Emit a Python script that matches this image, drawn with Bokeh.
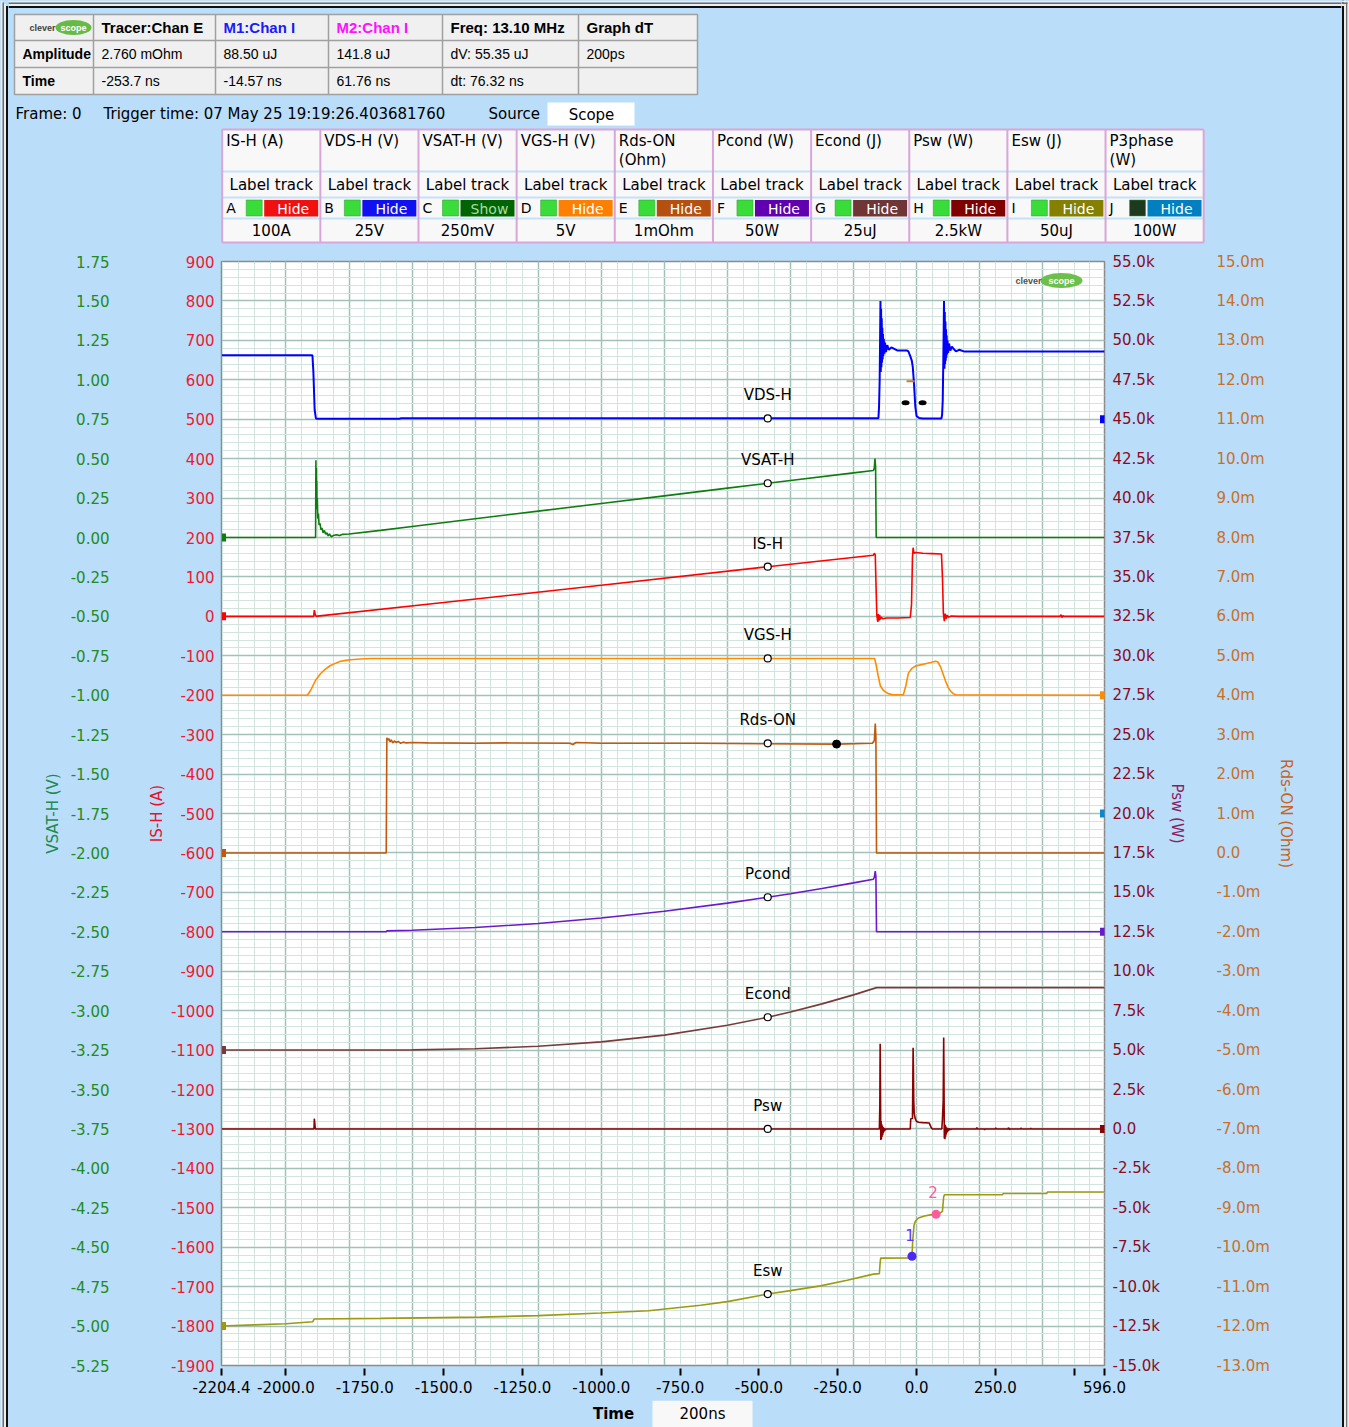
from bokeh.plotting import figure
from bokeh.models import Range1d, LinearAxis, FixedTicker, PrintfTickFormatter, CustomJSTickFormatter
from bokeh.layouts import column, row
from bokeh.embed import file_html
from bokeh.resources import INLINE
from bokeh.core.properties import value

# ======================= DATA =======================
T_START, T_END = -2204.4, 596.0                       # ns
X_TICKS = [-2204.4, -2000, -1750, -1500, -1250, -1000, -750, -500, -250, 0, 250, 500, 596.0]
X_GRID_MAJOR = [-2000, -1800, -1600, -1400, -1200, -1000, -800, -600, -400, -200, 0, 200, 400]
X_GRID_MINOR = [t for t in range(-2200, 596, 50)]
DIV_BOTTOM, DIV_TOP = -19, 9                           # screen divisions (IS-H: 100 A/div)

CH_NAMES = ["IS-H", "VDS-H", "VSAT-H", "VGS-H", "Rds-ON", "Pcond", "Econd", "Psw", "Esw", "P3phase"]
CH_HEAD_1 = ["IS-H (A)", "VDS-H (V)", "VSAT-H (V)", "VGS-H (V)", "Rds-ON", "Pcond (W)",
             "Econd (J)", "Psw (W)", "Esw (J)", "P3phase"]
CH_HEAD_2 = ["", "", "", "", "(Ohm)", "", "", "", "", "(W)"]
CH_LETTERS = ["A", "B", "C", "D", "E", "F", "G", "H", "I", "J"]
CH_BUTTON = ["Hide", "Hide", "Show", "Hide", "Hide", "Hide", "Hide", "Hide", "Hide", "Hide"]
CH_SCALE_TEXT = ["100A", "25V", "250mV", "5V", "1mOhm", "50W", "25uJ", "2.5kW", "50uJ", "100W"]
CH_SCALE = [100, 25, 0.25, 5, 1e-3, 50, 25e-6, 2500, 50e-6, 100]
CH_ZERO_DIV = [0, 5, 2, -2, -6, -8, -11, -13, -18, -5]
CH_MARK_SIDE = ["left", "right", "left", "right", "left", "right", "left", "right", "left", "right"]

# traces: (time ns, value in channel unit)
IS_H = [(-2204.4, 0), (-1912, 0), (-1910, 16), (-1907, 4), (-1904, 0), (-1900, 0.5), (-1500, 35),
        (-1000, 79), (-472, 126), (-137, 155), (-134, 160), (-131, 156), (-128, 60), (-126, 2),
        (-123, -14), (-121, 6), (-119, -11), (-117, 3), (-115, -8), (-112, -2), (-107, -6),
        (-95, -4), (-60, -4), (-20, -3), (-16, 30), (-13, 150), (-11, 174), (-8, 160), (-3, 162),
        (20, 160), (50, 159), (79, 158), (82, 100), (85, 8), (88, -12), (91, 7), (94, -6), (97, 3),
        (101, -2), (110, 1), (130, 0), (455, 0), (458, 4), (461, -3), (464, 2), (467, 0), (596, 0)]
VDS_H = [(-2204.4, 40.5), (-1916, 40.5), (-1913, 30), (-1909, 6), (-1905, 0.5), (-1900, 0.3),
         (-1640, 0.3), (-1635, 0.6), (-121, 0.6), (-119, 8), (-117, 25), (-115.5, 55), (-114.5, 75),
         (-113.5, 30), (-112.5, 70), (-111.5, 33), (-110.5, 64), (-109.5, 36), (-108.5, 58),
         (-107.5, 38), (-106.5, 54), (-105.5, 40), (-104, 51), (-102, 41.5), (-100, 48.5),
         (-97, 42.5), (-93, 47), (-88, 44), (-80, 45.5), (-60, 43.5), (-30, 43.5), (-26, 43),
         (-20, 40), (-15, 37), (-12, 33), (-8, 22), (-4, 8), (0, 2), (8, 0.8), (20, 0.5), (79, 0.5),
         (81, 3), (83, 12), (85, 40), (87, 75), (88.5, 32), (89.5, 68), (90.5, 35), (91.5, 62),
         (92.5, 37), (93.5, 57), (94.5, 39), (95.5, 53), (96.5, 41), (98, 50), (100, 42), (103, 48),
         (107, 43.5), (112, 46), (118, 44.5), (125, 43), (135, 44), (150, 43), (596, 43)]
VSAT_H = [(-2204.4, 0), (-1906, 0), (-1905, 0.49), (-1904.3, 0.28), (-1903.6, 0.44), (-1902.9, 0.22),
          (-1902.2, 0.36), (-1901.5, 0.18), (-1900.5, 0.25), (-1899, 0.12), (-1897, 0.15),
          (-1895, 0.08), (-1892, 0.09), (-1889, 0.05), (-1886, 0.06), (-1882, 0.03), (-1878, 0.045),
          (-1874, 0.02), (-1870, 0.03), (-1866, 0.01), (-1862, 0.022), (-1856, 0.005),
          (-1850, 0.012), (-1840, 0.018), (-1830, 0.012), (-1820, 0.02), (-1800, 0.022),
          (-1700, 0.045), (-1600, 0.07), (-1400, 0.119), (-1200, 0.167), (-1000, 0.216),
          (-800, 0.264), (-600, 0.313), (-472, 0.344), (-400, 0.361), (-200, 0.41), (-137, 0.425),
          (-134, 0.44), (-132, 0.5), (-130, 0.45), (-128, 0.0), (596, 0.0)]
VGS_H = [(-2204.4, 0), (-1932, 0), (-1922, 0.6), (-1906, 1.9), (-1890, 2.75), (-1875, 3.3),
         (-1859, 3.77), (-1840, 4.1), (-1827, 4.3), (-1810, 4.42), (-1795, 4.5), (-1765, 4.6),
         (-1732, 4.66), (-133, 4.66), (-128, 3.8), (-122, 2.5), (-115, 1.2), (-105, 0.6),
         (-90, 0.2), (-75, 0.05), (-42, 0.05), (-34, 1.2), (-26, 2.8), (-15, 3.4), (-3, 3.7),
         (12, 3.85), (28, 4.0), (45, 4.15), (60, 4.3), (68, 4.2), (76, 3.6), (84, 2.7), (92, 1.8),
         (100, 1.0), (108, 0.5), (116, 0.2), (124, 0.05), (596, 0)]
RDS_ON = [(-2204.4, 0), (-1682, 0), (-1680, 2.92e-3), (-1677, 2.86e-3), (-1674, 2.9e-3),
          (-1670, 2.82e-3), (-1666, 2.87e-3), (-1661, 2.79e-3), (-1656, 2.84e-3), (-1650, 2.8e-3),
          (-1644, 2.83e-3), (-1636, 2.78e-3), (-1628, 2.81e-3), (-1618, 2.79e-3), (-1600, 2.8e-3),
          (-1550, 2.79e-3), (-1400, 2.78e-3), (-1300, 2.79e-3), (-1100, 2.78e-3), (-1090, 2.75e-3),
          (-1080, 2.8e-3), (-1000, 2.78e-3), (-700, 2.78e-3), (-253.7, 2.76e-3), (-140, 2.78e-3),
          (-134, 2.85e-3), (-131, 3.28e-3), (-129, 2.95e-3), (-127, 0), (596, 0)]
PCOND = [(-2204.4, 0), (-1682, 0), (-1680, 1.1), (-1600, 1.9), (-1400, 5.4), (-1200, 10.5),
         (-1000, 17.4), (-800, 26), (-600, 36.3), (-472, 43.8), (-400, 48.3), (-300, 54.8),
         (-200, 62), (-137, 66.7), (-134, 69), (-131, 77), (-129, 70), (-127, 0), (596, 0)]
ECOND = [(-2204.4, 0), (-1680, 0), (-1600, 0.12e-6), (-1400, 0.85e-6), (-1200, 2.4e-6),
         (-1000, 5.2e-6), (-800, 9.5e-6), (-600, 15.7e-6), (-472, 20.8e-6), (-400, 24.1e-6),
         (-300, 29.3e-6), (-200, 35.0e-6), (-127, 39.6e-6), (596, 39.6e-6)]
PSW = [(-2204.4, 0), (-1911, 0), (-1910, 650), (-1908.5, 350), (-1907, 0), (-118, 0), (-116.5, 1500),
       (-115.5, 5400), (-114.5, 2600), (-113.5, -700), (-112.5, 500), (-111.5, -650), (-110.5, 300),
       (-109.5, -500), (-108.5, 200), (-107.5, -380), (-106.5, 120), (-105.5, -250), (-104, 60),
       (-102.5, -150), (-101, 30), (-99, -80), (-97, 0), (-20, 0), (-18.5, 650), (-13, 660),
       (-12, 2600), (-11, 5150), (-10, 3800), (-9, 1800), (-7.5, 1000), (-5, 700), (-1, 500),
       (6, 420), (20, 400), (40, 380), (46, 100), (50, 0), (80, 0), (82, 600), (84.5, 1800),
       (86, 5800), (87, 2800), (88, -600), (89, 300), (90, -650), (91, 250), (92, -500), (93, 150),
       (94, -350), (95.5, 80), (97, -220), (99, 40), (101, -120), (104, 20), (108, -40), (112, 0),
       (190, 0), (191, 90), (192, 0), (215, 0), (216, -60), (217, 0), (250, 0), (251, 70), (253, 0),
       (290, 0), (292, 80), (294, -40), (296, 0), (330, 0), (331, 60), (333, 0), (360, 0), (362, 50),
       (364, 0), (596, 0)]
ESW = [(-2204.4, 0), (-2100, 1.5e-6), (-2000, 3.0e-6), (-1915, 5.5e-6), (-1910, 9.0e-6),
       (-1700, 9.8e-6), (-1383, 11.4e-6), (-1200, 13.2e-6), (-1002, 16.5e-6), (-850, 19.5e-6),
       (-685, 26.5e-6), (-600, 31e-6), (-472, 40.6e-6), (-400, 45e-6), (-305, 51e-6),
       (-220, 58e-6), (-137, 65.9e-6), (-118, 66.5e-6), (-116, 78e-6), (-114, 86.2e-6),
       (-20, 86.5e-6), (-14.57, 88.5e-6), (-12, 110e-6), (-8, 128e-6), (-4, 133e-6), (6, 137e-6),
       (25, 139.5e-6), (44, 141e-6), (61.76, 141.8e-6), (75, 143.5e-6), (82, 145.5e-6),
       (84, 155e-6), (86, 164e-6), (88.5, 166.5e-6), (273, 166.5e-6), (275, 168.2e-6),
       (413, 168.2e-6), (415, 170e-6), (596, 170e-6)]
TRACES = {"IS-H": IS_H, "VDS-H": VDS_H, "VSAT-H": VSAT_H, "VGS-H": VGS_H, "Rds-ON": RDS_ON,
          "Pcond": PCOND, "Econd": ECOND, "Psw": PSW, "Esw": ESW}

LABEL_T = -472
LABEL_VALUES = {"VDS-H": 0.5, "VSAT-H": 0.344, "IS-H": 126, "VGS-H": 4.66, "Rds-ON": 2.78e-3,
                "Pcond": 43.8, "Econd": 20.8e-6, "Psw": 0, "Esw": 40.6e-6}
TRACER = ("Rds-ON", -253.7, 2.760e-3)
M1 = ("Esw", -14.57, 88.50e-6)
M2 = ("Esw", 61.76, 141.8e-6)
CURSOR_DOTS_T = [-35, 19]
CURSOR_DOTS_V = [10.5, 10.5]

HEADER_ROW = ["Tracer:Chan E", "M1:Chan I", "M2:Chan I", "Freq: 13.10 MHz", "Graph dT"]
AMP_ROW = ["2.760 mOhm", "88.50 uJ", "141.8 uJ", "dV: 55.35 uJ", "200ps"]
TIME_ROW = ["-253.7 ns", "-14.57 ns", "61.76 ns", "dt:  76.32 ns", ""]

# ======================= STYLE =======================
BG = "#BADDF9"
FONT = "DejaVu Sans"
CH_COLOR = {"IS-H": "#FF0000", "VDS-H": "#0000FF", "VSAT-H": "#0E7C0E", "VGS-H": "#FF8C00",
            "Rds-ON": "#C0580E", "Pcond": "#6A1ACD", "Econd": "#7A3A3A", "Psw": "#8B0000",
            "Esw": "#9C9A12", "P3phase": "#0A88CC"}
BTN_COLOR = ["#F01010", "#1010F0", "#006400", "#FF8000", "#B5500F", "#6000B0", "#703535",
             "#800000", "#858000", "#0080C0"]
TOTAL_H = 1427
COL_X0, COL_X1 = 8, 1341          # page x-range of the central column


def txt(fig, x, y, s, size="15px", font=FONT, color="black", align="left", baseline="middle",
        style="normal", **kw):
    fig.text(x=[x], y=[y], text=[s], text_font=value(font), text_font_size=value(size),
             text_color=color, text_align=align, text_baseline=baseline, text_font_style=style, **kw)


def plain_fig(x0, x1, y0, y1, bg=BG):
    f = figure(width=int(x1 - x0), height=int(y1 - y0), x_range=Range1d(x0, x1),
               y_range=Range1d(y1, y0), output_backend="svg", toolbar_location=None, min_border=0,
               x_axis_location=None, y_axis_location=None, frame_align=False,
               background_fill_color=bg, border_fill_color=bg, outline_line_color=None)
    f.grid.visible = False
    return f


# window frame bands (outer gray, light, inner black)
FRAME_BANDS = [(0, 2, "#EDEDED"), (2, 3.5, "#6E6E6E"), (3.5, 5.5, "#EDEDED"), (5.5, 7.5, "#101010")]

# ======================= LEFT / RIGHT FRAME STRIPS =======================
left = plain_fig(0, COL_X0, 0, TOTAL_H)
for a, b, c in FRAME_BANDS:
    left.quad(left=a, right=b, top=a, bottom=TOTAL_H, fill_color=c, line_color=None)
right = plain_fig(COL_X1, 1349, 0, TOTAL_H)
for a, b, c in [(1341.5, 1343.5, "#101010"), (1343.5, 1345.5, "#EDEDED"), (1345.5, 1347, "#6E6E6E"),
                (1347, 1349, "#EDEDED")]:
    right.quad(left=a, right=b, top=0, bottom=TOTAL_H, fill_color=c, line_color=None)
for a, b, c in FRAME_BANDS:
    right.quad(left=COL_X1, right=1349 - a, top=a, bottom=b, fill_color=c, line_color=None)

# ======================= TOP PANEL =======================
top = plain_fig(COL_X0, COL_X1, 0, 245)
for a, b, c in FRAME_BANDS:
    top.quad(left=COL_X0, right=COL_X1, top=a, bottom=b, fill_color=c, line_color=None)
HT_X = [14, 93, 215, 328, 442, 578, 697]
HT_Y = [14, 40, 67, 94]
top.quad(left=HT_X[0], right=HT_X[-1], top=HT_Y[0], bottom=HT_Y[-1], fill_color="#F0F0F0",
         line_color="#A0A0A0", line_width=1.5)
top.segment(x0=HT_X[1:-1], y0=[HT_Y[0]] * 5, x1=HT_X[1:-1], y1=[HT_Y[-1]] * 5,
            line_color="#A0A0A0", line_width=1.5)
top.segment(x0=[HT_X[0]] * 2, y0=HT_Y[1:3], x1=[HT_X[-1]] * 2, y1=HT_Y[1:3],
            line_color="#A0A0A0", line_width=1.5)
# logo cell
top.ellipse(x=[73], y=[27], width=36, height=15, fill_color="#66BB44", line_color=None)
txt(top, 55, 27.5, "clever", size="9px", font="Liberation Sans", color="#404040", align="right", style="bold")
txt(top, 73, 27.5, "scope", size="9px", font="Liberation Sans", color="white", align="center", style="bold")
hdr_colors = ["black", "#1A1AFF", "#FF10FF", "black", "black"]
for i in range(5):
    x = HT_X[i + 1] + 8
    txt(top, x, 27, HEADER_ROW[i], font="Liberation Sans", color=hdr_colors[i], style="bold")
    txt(top, x, 53.5, AMP_ROW[i], size="14px", font="Liberation Sans")
    txt(top, x, 80.5, TIME_ROW[i], size="14px", font="Liberation Sans")
txt(top, 22, 53.5, "Amplitude", size="14px", font="Liberation Sans", style="bold")
txt(top, 22, 80.5, "Time", size="14px", font="Liberation Sans", style="bold")

txt(top, 15, 113, "Frame: 0")
txt(top, 103, 113, "Trigger time: 07 May 25 19:19:26.403681760")
txt(top, 488, 113, "Source")
top.quad(left=547, right=634, top=102, bottom=125, fill_color="white", line_color=None)
txt(top, 591, 114, "Scope", align="center")

# channel table
CT_X0, CT_W = 221.7, 98.15
CT_Y = [129, 171, 197, 218, 242]
xr = CT_X0 + 10 * CT_W
top.quad(left=CT_X0, right=xr, top=CT_Y[0], bottom=CT_Y[-1], fill_color="#F8F8F8",
         line_color=None)
top.segment(x0=[CT_X0] * 3, y0=CT_Y[1:4], x1=[xr] * 3, y1=CT_Y[1:4], line_color="#C4E2F7",
            line_width=2)
vx = [CT_X0 + i * CT_W for i in range(11)]
top.segment(x0=vx, y0=[CT_Y[0]] * 11, x1=vx, y1=[CT_Y[-1]] * 11, line_color="#D8A6D8", line_width=2)
top.segment(x0=[CT_X0, CT_X0], y0=[CT_Y[0], CT_Y[-1]], x1=[xr, xr], y1=[CT_Y[0], CT_Y[-1]],
            line_color="#D8A6D8", line_width=2)
for i in range(10):
    x0 = CT_X0 + i * CT_W
    txt(top, x0 + 4, 131, CH_HEAD_1[i], baseline="top")
    if CH_HEAD_2[i]:
        txt(top, x0 + 4, 150, CH_HEAD_2[i], baseline="top")
    txt(top, x0 + CT_W / 2, 184.5, "Label track", align="center")
    txt(top, x0 + 4, 207.5, CH_LETTERS[i], size="14px")
    sq = "#1E3A1E" if i == 9 else "#3ADC3A"
    top.quad(left=x0 + 24, right=x0 + 40, top=199.5, bottom=215.5, fill_color=sq,
             line_color="#2A9A2A", line_width=0.5)
    top.quad(left=x0 + 42, right=x0 + 96, top=199.5, bottom=216, fill_color=BTN_COLOR[i],
             line_color=None)
    tc = "#A8DCA8" if CH_BUTTON[i] == "Show" else "#FFFFFF"
    txt(top, x0 + 71, 208, CH_BUTTON[i], size="14px", color=tc, align="center")
    txt(top, x0 + CT_W / 2, 230.5, CH_SCALE_TEXT[i], align="center")

# ======================= MAIN PLOT =======================
ranges = {n: ((DIV_BOTTOM - z) * s, (DIV_TOP - z) * s)
          for n, s, z in zip(CH_NAMES, CH_SCALE, CH_ZERO_DIV)}


def ticks_for(name):
    i = CH_NAMES.index(name)
    return [round((d - CH_ZERO_DIV[i]) * CH_SCALE[i], 9) for d in range(DIV_BOTTOM, DIV_TOP + 1)]


def rn(name):
    return "default" if name == "IS-H" else name


FRAME_L, FRAME_R, FRAME_T, FRAME_B = 221, 1104, 261, 1365     # page pixels of the plot frame
MAIN_Y0, MAIN_Y1 = 245, 1400
p = figure(width=COL_X1 - COL_X0, height=MAIN_Y1 - MAIN_Y0, x_range=Range1d(T_START, T_END),
           y_range=Range1d(*ranges["IS-H"]), output_backend="svg", toolbar_location=None,
           min_border_left=FRAME_L - COL_X0, min_border_right=COL_X1 - FRAME_R,
           min_border_top=FRAME_T - MAIN_Y0, min_border_bottom=MAIN_Y1 - FRAME_B,
           frame_align=False, background_fill_color="white", border_fill_color=BG,
           outline_line_color="#8C8C8C", outline_line_width=1.5)
p.extra_y_ranges = {n: Range1d(*ranges[n]) for n in CH_NAMES if n != "IS-H"}

# grid
is_ticks = ticks_for("IS-H")
p.xgrid.ticker = FixedTicker(ticks=X_GRID_MAJOR, minor_ticks=X_GRID_MINOR)
p.ygrid.ticker = FixedTicker(ticks=is_ticks,
                             minor_ticks=[v for v in range(-1900, 901, 20)])
for g in (p.xgrid, p.ygrid):
    g.grid_line_color = "#A2C1B9"
    g.grid_line_width = 1.5
    g.minor_grid_line_color = "#D2E4DE"
    g.minor_grid_line_width = 1

# x axis
xa = p.xaxis[0]
xa.ticker = FixedTicker(ticks=X_TICKS)
xa.formatter = CustomJSTickFormatter(code="return Math.abs(tick-500)<1e-6 ? '' : tick.toFixed(1);")
xa.major_tick_out = 10
xa.major_tick_in = -3
xa.major_tick_line_width = 2
xa.major_tick_line_color = "black"
xa.minor_tick_out = 0
xa.axis_line_color = "#8C8C8C"
xa.major_label_standoff = 5
xa.major_label_text_font = FONT
xa.major_label_text_font_size = "15px"
xa.major_label_text_color = "black"


def style_y(ax, color, label, label_color, standoff, label_standoff):
    ax.major_tick_out = 0
    ax.major_tick_in = 0
    ax.minor_tick_out = 0
    ax.minor_tick_in = 0
    ax.major_label_standoff = standoff
    ax.major_label_text_font = FONT
    ax.major_label_text_font_size = "15px"
    ax.major_label_text_color = color
    ax.axis_label = label
    ax.axis_label_text_font = FONT
    ax.axis_label_text_font_size = "15px"
    ax.axis_label_text_font_style = "normal"
    ax.axis_label_text_color = label_color
    ax.axis_label_standoff = label_standoff


ya = p.yaxis[0]
ya.ticker = FixedTicker(ticks=is_ticks)
ya.formatter = PrintfTickFormatter(format="%d")
ya.axis_line_color = "#8C8C8C"
style_y(ya, "#F01830", "IS-H (A)", "#E8102A", 7, 2)

ax_vsat = LinearAxis(y_range_name="VSAT-H", ticker=FixedTicker(ticks=ticks_for("VSAT-H")),
                     formatter=PrintfTickFormatter(format="%.2f"), axis_line_color=None)
style_y(ax_vsat, "#228B22", "VSAT-H (V)", "#1E8A50", 35, 6)
p.add_layout(ax_vsat, "left")

ax_psw = LinearAxis(y_range_name="Psw", ticker=FixedTicker(ticks=ticks_for("Psw")),
                    formatter=CustomJSTickFormatter(
                        code="return Math.abs(tick)<1e-9 ? '0.0' : (tick/1000).toFixed(1)+'k';"),
                    axis_line_color=None)
style_y(ax_psw, "#8B0A1E", "Psw (W)", "#8B2060", 8, 5)
p.add_layout(ax_psw, "right")

ax_rds = LinearAxis(y_range_name="Rds-ON", ticker=FixedTicker(ticks=ticks_for("Rds-ON")),
                    formatter=CustomJSTickFormatter(
                        code="return Math.abs(tick)<1e-12 ? '0.0' : (tick*1000).toFixed(1)+'m';"),
                    axis_line_color=None)
style_y(ax_rds, "#C87028", "Rds-ON (Ohm)", "#C8641E", 28, 4)
p.add_layout(ax_rds, "right")

# traces
for name, pts in TRACES.items():
    t = [a for a, b in pts]
    v = [b for a, b in pts]
    p.line(t, v, y_range_name=rn(name), line_color=CH_COLOR[name],
           line_width=2 if name == "VDS-H" else 1.6)

# channel zero markers at plot edges
for name, side in zip(CH_NAMES, CH_MARK_SIDE):
    p.rect(x=[T_START if side == "left" else T_END], y=[0], width=9, height=8,
           width_units="screen", height_units="screen", fill_color=CH_COLOR[name],
           line_color=None, y_range_name=rn(name))

# trace labels
for name, val in LABEL_VALUES.items():
    p.scatter(x=[LABEL_T], y=[val], marker="circle", size=7, fill_color="white",
              line_color="black", line_width=1.2, y_range_name=rn(name))
    txt(p, LABEL_T, val, name, align="center", y_offset=-23, y_range_name=rn(name))

# tracer & markers
p.scatter(x=[TRACER[1]], y=[TRACER[2]], marker="circle", size=8, fill_color="black",
          line_color="black", y_range_name=rn(TRACER[0]))
p.scatter(x=[M1[1]], y=[M1[2]], marker="circle", size=9, fill_color="#4A2AF0", line_color=None,
          y_range_name=rn(M1[0]))
p.scatter(x=[M2[1]], y=[M2[2]], marker="circle", size=9, fill_color="#FF5A9A", line_color=None,
          y_range_name=rn(M2[0]))
txt(p, M1[1], M1[2], "1", color="#5A3CFF", align="center", x_offset=-2, y_offset=-21,
    y_range_name=rn(M1[0]))
txt(p, M2[1], M2[2], "2", color="#FF5AA0", align="center", x_offset=-3, y_offset=-22,
    y_range_name=rn(M2[0]))
p.ellipse(x=CURSOR_DOTS_T, y=CURSOR_DOTS_V, width=8, height=5, width_units="screen",
          height_units="screen", fill_color="black", line_color=None, y_range_name="VDS-H")
p.scatter(x=[-19], y=[24], marker="dash", size=8, line_color="#C08030", line_width=2,
          y_range_name="VDS-H")


# logo inside the plot (placed from page pixels)
def px_t(x):
    return T_START + (x - FRAME_L) * (T_END - T_START) / (FRAME_R - FRAME_L)


def px_is(y):
    return 900 - (y - FRAME_T) * 2800 / (FRAME_B - FRAME_T)


p.ellipse(x=[px_t(1061)], y=[px_is(280)], width=42, height=15, width_units="screen",
          height_units="screen", fill_color="#6DBF4B", line_color=None)
txt(p, px_t(1061), px_is(280), "scope", size="9px", font="Liberation Sans", color="white",
    align="center", style="bold")
txt(p, px_t(1041), px_is(280), "clever", size="9px", font="Liberation Sans", color="#505050",
    align="right", style="bold")

# ======================= BOTTOM PANEL =======================
bot = plain_fig(COL_X0, COL_X1, MAIN_Y1, TOTAL_H)
txt(bot, 613, 1413, "Time", align="center", style="bold")
bot.quad(left=652, right=752, top=1400, bottom=TOTAL_H, fill_color="#F8F8F8", line_color=None)
txt(bot, 702, 1413, "200ns", align="center")

layout = row(left, column(top, p, bot, spacing=0, styles={"background-color": BG}), right,
             spacing=0, styles={"background-color": BG})
open("out.html", "w").write(file_html(layout, INLINE))
